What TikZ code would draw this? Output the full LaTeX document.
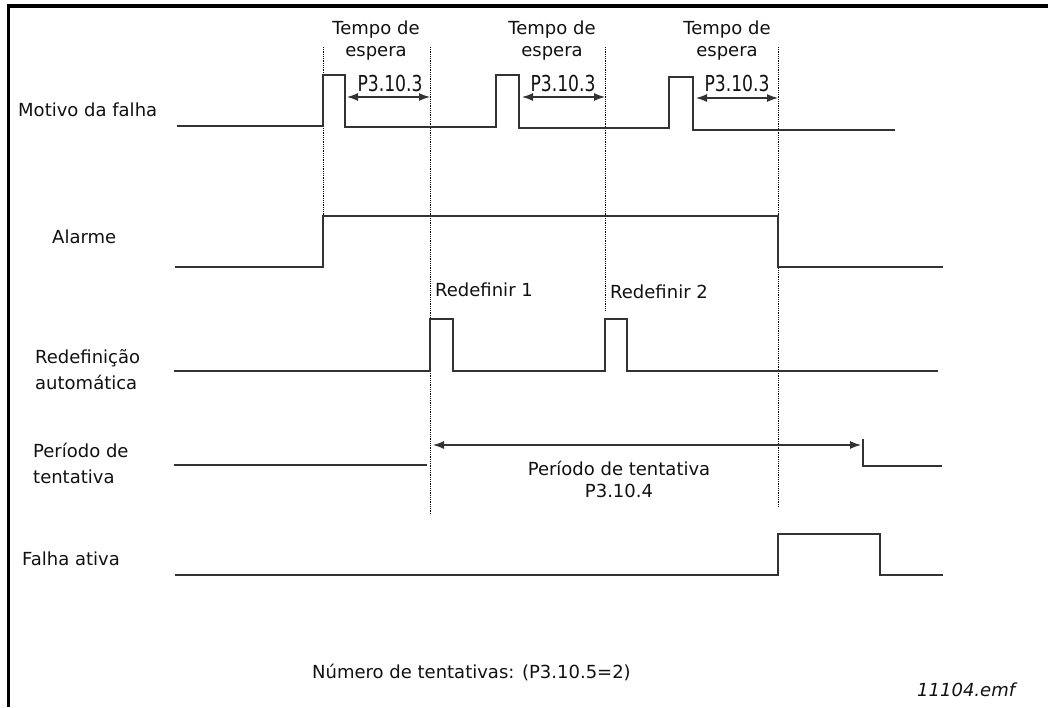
\documentclass[tikz,border=0pt]{standalone}
\usepackage{fontspec}
\setmainfont{DejaVu Sans}
\newfontfamily\parfont[FakeStretch=0.78]{DejaVu Sans}
\usetikzlibrary{arrows.meta,positioning,calc}
\definecolor{sigLine}{HTML}{333333}
\definecolor{sigText}{HTML}{111111}
\tikzset{
    sigWave/.style={draw=sigLine, line width=1.4pt},
    sigGuide/.style={draw=black, densely dotted, line width=0.8pt},
    sigFrame/.style={draw=black, line width=3.5pt},
    sigSpan/.style={{Latex[length=11pt,width=8pt]}-{Latex[length=11pt,width=8pt]}, draw=sigLine, line width=1.1pt},
    sigLabel/.style={font=\fontsize{18}{26}\selectfont, text=sigText, inner sep=0pt, align=left, anchor=west},
    sigNote/.style={font=\fontsize{18}{22}\selectfont, text=sigText, inner sep=0pt, align=center},
    sigPar/.style={font=\parfont\fontsize{22}{24}\selectfont, text=sigText, inner sep=0pt}
}
\begin{document}
\begin{tikzpicture}[x=1pt, y=-1pt]
\useasboundingbox (0,0) rectangle (1048,707);
% frame
\draw[sigFrame] (8.5,707) -- (8.5,6) -- (1048,6);

% time marks
\coordinate (t1) at (323,47);
\coordinate (t2) at (430,47);
\coordinate (t3) at (605,47);
\coordinate (t4) at (778,47);
\draw[sigGuide] (t1) -- (t1 |- 0,216);
\draw[sigGuide] (t2) -- (t2 |- 0,515);
\draw[sigGuide] (t3) -- (t3 |- 0,310);
\draw[sigGuide] (t4) -- (t4 |- 0,507);

% signal names
\node[sigLabel] (lblMotivo) at (18,110) {Motivo da falha};
\node[sigLabel] (lblAlarme) at (52,237) {Alarme};
\node[sigLabel] (lblRedef) at (35,370) {Redefinição\\automática};
\node[sigLabel] (lblPeriodo) at (33,463) {Período de\\tentativa};
\node[sigLabel] (lblFalha) at (22,559) {Falha ativa};

% Motivo da falha
\draw[sigWave] (177,126) -- (323,126) -- (323,75) -- (345,75) -- (345,127)
    -- (496,127) -- (496,75) -- (519,75) -- (519,128)
    -- (669,128) -- (669,77) -- (693,77) -- (693,130) -- (895,130);

% waiting time
\node[sigNote] (espera1) at (376,41) {Tempo de\\espera};
\node[sigNote] (espera2) at (552,41) {Tempo de\\espera};
\node[sigNote] (espera3) at (727,41) {Tempo de\\espera};
\node[sigPar] (par1) at (390,83) {P3.10.3};
\node[sigPar] (par2) at (563,83) {P3.10.3};
\node[sigPar] (par3) at (737,83) {P3.10.3};
\coordinate (w1a) at (347,97);
\coordinate (w1b) at (t2 |- w1a);
\coordinate (w2a) at (522,97);
\coordinate (w2b) at (t3 |- w2a);
\coordinate (w3a) at (696,98);
\coordinate (w3b) at (t4 |- w3a);
\draw[sigSpan] (w1a) -- (w1b);
\draw[sigSpan] (w2a) -- (w2b);
\draw[sigSpan] (w3a) -- (w3b);

% Alarme
\draw[sigWave] (175,267) -- (323,267) -- (323,216) -- (778,216) -- (778,267) -- (943,267);

% Redefinicao automatica
\node[sigLabel] (reset1) at (435,290) {Redefinir 1};
\node[sigLabel] (reset2) at (610,292) {Redefinir 2};
\draw[sigWave] (174,371) -- (430,371) -- (430,319) -- (453,319) -- (453,371)
    -- (605,371) -- (605,319) -- (627,319) -- (627,371) -- (938,371);

% Periodo de tentativa
\draw[sigWave] (174,465) -- (427,465);
\draw[sigWave] (863,439) -- (863,466) -- (942,466);
\coordinate (pa) at (433,445);
\coordinate (pb) at (861,445);
\draw[sigSpan] (pa) -- (pb);
\node[sigNote] (per) at (619,468) {Período de tentativa};
\node[sigNote, below=8pt of per] (perPar) {P3.10.4};

% Falha ativa
\draw[sigWave] (175,575) -- (778,575) -- (778,534) -- (880,534) -- (880,575) -- (943,575);

% notes
\node[sigLabel] (tries) at (312,672) {Número de tentativas: (P3.10.5=2)};
\node[sigLabel, font=\itshape\fontsize{18}{22}\selectfont] (fileName) at (917,690) {11104.emf};
\end{tikzpicture}
\end{document}
